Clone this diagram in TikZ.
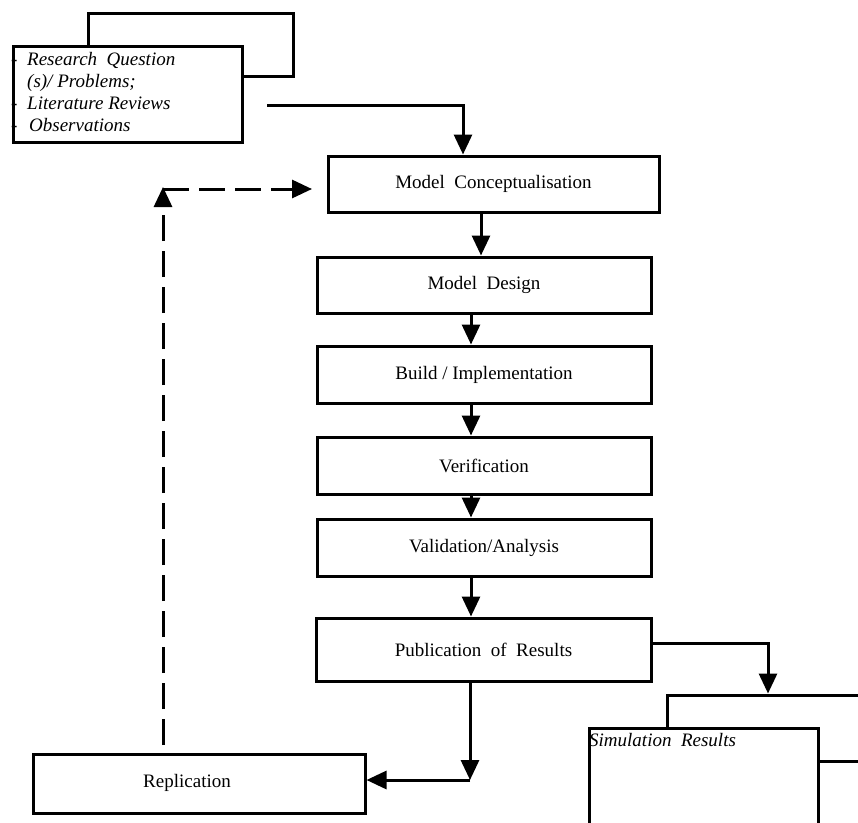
\documentclass[tikz,border=0pt]{standalone}
\usepackage{fontspec}
\setmainfont{Liberation Serif}
\usetikzlibrary{arrows.meta,calc}
\begin{document}
\begin{tikzpicture}[x=1pt,y=-1pt,
  box/.style={draw,line width=3pt,fill=white,rectangle,inner sep=0pt},
  lbl/.style={font=\fontsize{19}{22}\selectfont},
  itl/.style={font=\fontsize{19}{22}\selectfont\itshape,inner sep=0pt},
  arr/.style={line width=3pt,-{Triangle[length=20pt,width=18pt]}},
  dasharr/.style={arr,dash pattern=on 26pt off 10pt}]
\useasboundingbox (0,0) rectangle (858,822);
\clip (0,0) rectangle (858,822);
\fill[white] (0,0) rectangle (858,822);

% research question card (stacked)
\node[box,minimum width=205pt,minimum height=63pt] (rqback) at (190.5,44.5) {};
\node[box,minimum width=229pt,minimum height=96pt] (rq) at (127.5,94) {};
\node[itl,anchor=base west] (rq1) at (11,65) {\makebox[16pt][l]{-}Research~ Question};
\node[itl,anchor=base west] (rq2) at (27,87) {(s)/ Problems;};
\node[itl,anchor=base west] (rq3) at (11,109) {\makebox[16pt][l]{-}Literature Reviews};
\node[itl,anchor=base west] (rq4) at (11,131) {\makebox[18pt][l]{-}Observations};

% main process chain
\node[box,lbl,minimum width=331pt,minimum height=56pt] (mc) at (493.5,184) {Model~ Conceptualisation};
\node[box,lbl,minimum width=334pt,minimum height=56pt] (md) at (484,285) {Model~ Design};
\node[box,lbl,minimum width=334pt,minimum height=57pt] (bi) at (484,374.5) {Build / Implementation};
\node[box,lbl,minimum width=334pt,minimum height=57pt] (ve) at (484,465.5) {Verification};
\node[box,lbl,minimum width=334pt,minimum height=57pt] (va) at (484,547.5) {Validation/Analysis};
\node[box,lbl,minimum width=335pt,minimum height=63pt] (pu) at (483.5,649.5) {Publication~ of~ Results};

% replication
\node[box,minimum width=332pt,minimum height=59pt] (re) at (199,783.5) {};
\node[lbl,inner sep=0pt] (retext) at (187,783) {Replication};

% simulation results card (stacked)
\node[box,minimum width=205pt,minimum height=66pt] (simback) at (769.5,728) {};
\node[box,minimum width=229pt,minimum height=96pt] (sim) at (703.5,776) {};
\node[itl,anchor=base west] (simtext) at (589,746) {Simulation~ Results};

% connector columns and free ends
\coordinate (c0) at (463,0);
\coordinate (c1) at (481,0);
\coordinate (c2) at (471,0);
\coordinate (c3) at (768,0);
\coordinate (rqout) at (267,105);
\coordinate (puout) at (651,643);
\coordinate (corner) at (470,780);
\coordinate (dstart) at (163,745);
\coordinate (dturn) at (163,189);
\coordinate (dend) at (312,189);

\draw[arr] (rqout) -| (c0 |- mc.north);
\draw[arr] (mc.south -| c1) -- (md.north -| c1);
\draw[arr] (md.south -| c2) -- (bi.north -| c2);
\draw[arr] (bi.south -| c2) -- (ve.north -| c2);
\draw[arr] (ve.south -| c2) -- (va.north -| c2);
\draw[arr] (va.south -| c2) -- (pu.north -| c2);
\draw[arr] (pu.south -| corner) -- (corner);
\draw[arr] (corner) -- (re.east |- corner);
\draw[arr] (puout) -| (c3 |- simback.north);

% feedback loop
\draw[dasharr] (dstart) -- (163,187);
\draw[dasharr] (dturn) -- (dend);
\end{tikzpicture}
\end{document}
